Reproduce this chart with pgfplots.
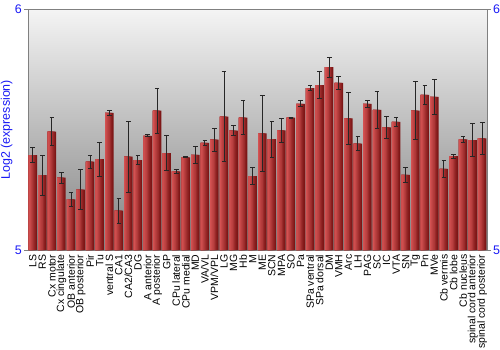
\documentclass[border=0pt]{standalone}
\usepackage{fontspec}
\setmainfont{Liberation Sans}
\usepackage{pgfplots}
\pgfplotsset{compat=1.18}
\usepackage{pgfplotstable}
\definecolor{tickblue}{RGB}{25,25,245}
\definecolor{barlight}{RGB}{212,82,82}
\definecolor{bardark}{RGB}{125,22,22}
\definecolor{bgtop}{RGB}{244,244,244}
\definecolor{bgbot}{RGB}{130,130,130}
\definecolor{axgray}{RGB}{128,128,128}

\pgfplotstableread{
x y e
0 5.394 0.031
1 5.311 0.083
2 5.492 0.057
3 5.301 0.023
4 5.210 0.030
5 5.251 0.083
6 5.367 0.027
7 5.378 0.071
8 5.570 0.010
9 5.164 0.052
10 5.388 0.148
11 5.374 0.018
12 5.475 0.005
13 5.579 0.093
14 5.403 0.072
15 5.327 0.009
16 5.385 0.002
17 5.396 0.035
18 5.445 0.010
19 5.459 0.048
20 5.555 0.187
21 5.496 0.021
22 5.550 0.070
23 5.307 0.034
24 5.485 0.157
25 5.461 0.075
26 5.497 0.048
27 5.550 0.002
28 5.608 0.013
29 5.673 0.010
30 5.686 0.055
31 5.760 0.041
32 5.695 0.026
33 5.547 0.107
34 5.442 0.028
35 5.608 0.014
36 5.583 0.077
37 5.510 0.045
38 5.533 0.020
39 5.312 0.031
40 5.580 0.119
41 5.645 0.038
42 5.637 0.072
43 5.337 0.034
44 5.390 0.009
45 5.460 0.012
46 5.457 0.070
47 5.464 0.068
}\data

% bar layer: width #1, colour #2 ; left edges aligned at x-0.445
\newcommand{\barlayer}[2]{%
  \addplot[ybar, bar width=#1, bar shift={-(0.89-#1)/2}, draw=none, fill=#2, forget plot]
    table[x=x, y=y] {\data};}

\begin{document}
\begin{tikzpicture}
\path[use as bounding box] (-28bp,-100bp) rectangle (472bp,250bp);
\begin{axis}[
  at={(0,0)}, anchor=south west,
  width=459bp, height=240.5bp, scale only axis,
  xmin=-0.5, xmax=47.5, ymin=5, ymax=6,
  ytick={5,6}, ytick pos=left,
  xtick={0,...,47},
  xticklabels={LS,RS,Cx motor,Cx cingulate,OB anterior,OB posterior,Pir,Tu,ventral S,CA1,CA2/CA3,DG,A anterior,A posterior,GP,CPu lateral,CPu medial,MD,VA/VL,VPM/VPL,LG,MG,Hb,M,ME,SCN,MPA,SO,Pa,SPa ventral,SPa dorsal,DM,VMH,Arc,LH,PAG,SC,IC,VTA,SN,Tg,Pn,MVe,Cb vermis,Cb lobe,Cb nucleus,spinal cord anterior,spinal cord posterior},
  x tick label style={rotate=90, anchor=east, font=\fontsize{10.5}{11}\selectfont, inner sep=0.5pt},
  xtick style={draw=none},
  tick align=outside, major tick length=4bp,
  y tick style={axgray},
  y tick label style={text=tickblue, font=\fontsize{12.5}{13}\selectfont, inner sep=2pt},
  ylabel={Log2 (expression)},
  ylabel shift=-3bp,
  ylabel style={text=tickblue, font=\fontsize{12.5}{13}\selectfont},
  axis line style={axgray},
  axis background/.style={top color=bgtop, bottom color=bgbot},
  /pgf/number format/assume math mode=true,
]
\barlayer{0.89}{bardark}
\barlayer{0.76}{barlight!15!bardark}
\barlayer{0.63}{barlight!35!bardark}
\barlayer{0.50}{barlight!55!bardark}
\barlayer{0.37}{barlight!70!bardark}
\barlayer{0.24}{barlight!85!bardark}
\barlayer{0.11}{barlight}
\addplot[draw=none, mark=none, forget plot,
  error bars/.cd, y dir=both, y explicit,
  error bar style={draw=black!85, line width=1pt},
  error mark options={rotate=90, mark size=2.3bp, line width=1pt, draw=black!85}]
  table[x=x, y=y, y error=e] {\data};
\end{axis}
\begin{axis}[
  at={(0,0)}, anchor=south west,
  width=459bp, height=240.5bp, scale only axis,
  xmin=-0.5, xmax=47.5, ymin=5, ymax=6,
  hide x axis, axis y line*=right,
  ytick={5,6},
  tick align=outside, major tick length=4bp,
  y tick style={axgray},
  y tick label style={text=tickblue, font=\fontsize{12.5}{13}\selectfont, inner sep=2pt},
  axis line style={axgray},
  /pgf/number format/assume math mode=true,
]
\addplot[draw=none, forget plot] coordinates {(0,5)};
\end{axis}
\end{tikzpicture}
\end{document}
